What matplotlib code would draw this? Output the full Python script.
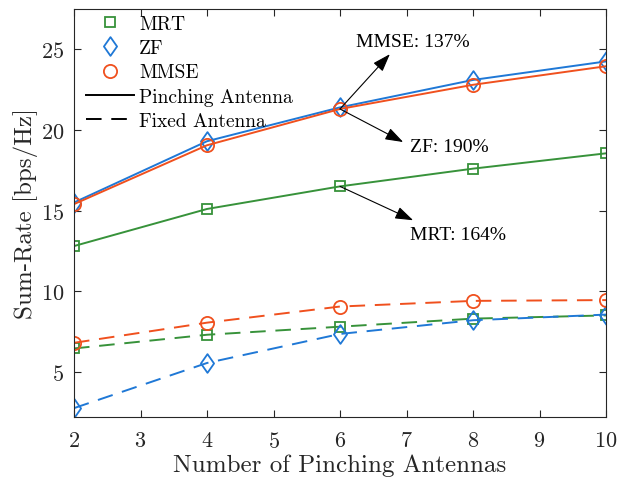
import matplotlib.pyplot as plt
from matplotlib.lines import Line2D
from matplotlib.path import Path

plt.rcParams['font.family'] = ['cmr10', 'DejaVu Serif']
plt.rcParams['axes.formatter.use_mathtext'] = True
plt.rcParams['mathtext.fontset'] = 'cm'

n_antennas = [2, 4, 6, 8, 10]

# pinching antenna
mrt_pin = [12.8, 15.1, 16.5, 17.6, 18.55]
zf_pin = [15.5, 19.3, 21.4, 23.1, 24.25]
mmse_pin = [15.4, 19.05, 21.3, 22.8, 23.95]

# fixed antenna
mrt_fix = [6.45, 7.3, 7.8, 8.3, 8.5]
zf_fix = [2.75, 5.55, 7.35, 8.2, 8.55]
mmse_fix = [6.8, 8.05, 9.05, 9.4, 9.45]

gain_labels = ["MMSE: 137%", "ZF: 190%", "MRT: 164%"]

green = "#37923a"
blue = "#1f78d6"
red = "#f0501e"

# MATLAB-style diamond (wider than matplotlib's thin one)
diamond = Path([(0, 1), (0.7, 0), (0, -1), (-0.7, 0), (0, 1)],
               [Path.MOVETO, Path.LINETO, Path.LINETO, Path.LINETO, Path.CLOSEPOLY])

sq = dict(marker="s", ms=7.5, mfc="none", mew=1.3)
dm = dict(marker=diamond, ms=13.5, mfc="none", mew=1.3)
ci = dict(marker="o", ms=9.5, mfc="none", mew=1.3)

fig = plt.figure(figsize=(6.17, 4.81), dpi=100)
ax = fig.add_axes([74 / 617, 1 - 418 / 481, 532 / 617, 408 / 481])

lw = 1.4
ax.plot(n_antennas, mrt_pin, "-", color=green, lw=lw, **sq)
ax.plot(n_antennas, zf_pin, "-", color=blue, lw=lw, **dm)
ax.plot(n_antennas, mmse_pin, "-", color=red, lw=lw, **ci)

dash = (0, (8, 5))
ax.plot(n_antennas, mrt_fix, ls=dash, color=green, lw=lw, **sq)
ax.plot(n_antennas, zf_fix, ls=dash, color=blue, lw=lw, **dm)
ax.plot(n_antennas, mmse_fix, ls=dash, color=red, lw=lw, **ci)

ax.set_xlim(2, 10)
ax.set_ylim(2.2, 27.5)
ax.set_xticks(range(2, 11))
ax.set_yticks([5, 10, 15, 20, 25])
ax.tick_params(direction="in", top=True, right=True, labelsize=16, colors="#262626",
               length=5)
ax.tick_params(axis="x", pad=10)
ax.tick_params(axis="y", pad=7)
for s in ax.spines.values():
    s.set_color("#262626")
    s.set_linewidth(0.8)

ax.set_xlabel("Number of Pinching Antennas", fontsize=18, color="#262626", labelpad=2)
ax.set_ylabel("Sum-Rate [bps/Hz]", fontsize=18, color="#262626", labelpad=2)

# gain annotations at N = 6
arrow = dict(arrowstyle="-|>,head_length=1.1,head_width=0.38", color="black", lw=0.8,
             shrinkA=0, shrinkB=0)
tfont = dict(family="Liberation Serif", fontsize=14)
ax.annotate("", xy=(6.75, 24.7), xytext=(6.0, mmse_pin[2]), arrowprops=arrow)
ax.text(7.1, 25.5, gain_labels[0], ha="center", va="center", **tfont)
ax.annotate("", xy=(6.95, 19.25), xytext=(6.0, mmse_pin[2]), arrowprops=arrow)
ax.text(7.05, 18.95, gain_labels[1], ha="left", va="center", **tfont)
ax.annotate("", xy=(7.1, 14.4), xytext=(6.0, mrt_pin[2]), arrowprops=arrow)
ax.text(7.05, 13.5, gain_labels[2], ha="left", va="center", **tfont)

handles = [
    Line2D([], [], ls="none", color=green, **sq),
    Line2D([], [], ls="none", color=blue, **dm),
    Line2D([], [], ls="none", color=red, **ci),
    Line2D([], [], ls="-", color="black", lw=1.4),
    Line2D([], [], ls=dash, color="black", lw=1.4),
]
labels = ["MRT", "ZF", "MMSE", "Pinching Antenna", "Fixed Antenna"]
ax.legend(handles, labels, loc="upper left", frameon=False, fontsize=14,
          handlelength=2.5, handletextpad=0.25, labelspacing=0.33,
          borderaxespad=0.0, bbox_to_anchor=(0.0075, 1.005))

fig.savefig("out.png", dpi=100)
